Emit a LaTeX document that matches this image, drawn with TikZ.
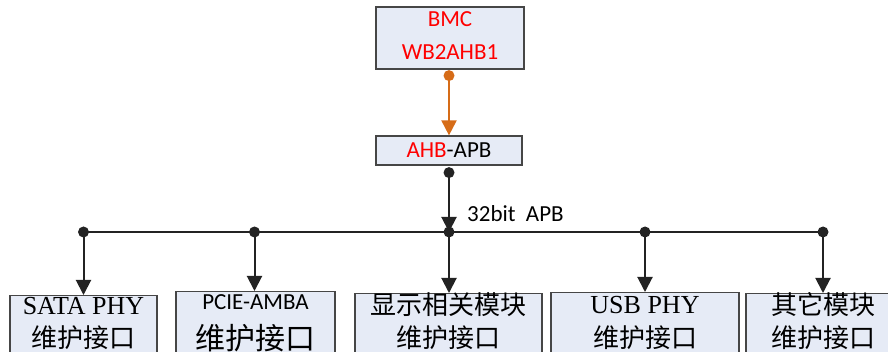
\documentclass[tikz,border=0pt]{standalone}
\usepackage{fontspec}
\newfontfamily\calfont{Carlito}
\newfontfamily\serfont{Liberation Serif}
\newfontfamily\cjkfont{Noto Sans CJK SC}
\usetikzlibrary{arrows, arrows.meta, positioning, calc}
\definecolor{boxfill}{RGB}{230,235,246}
\definecolor{boxline}{RGB}{70,70,70}
\definecolor{linkorange}{RGB}{214,108,24}
\definecolor{txtred}{RGB}{255,0,0}
\definecolor{buscol}{RGB}{35,35,35}
\tikzset{
  box/.style={draw=boxline, fill=boxfill, line width=1.2pt, inner sep=0pt},
  bus/.style={line width=2pt, draw=buscol},
  tip/.style={-{Triangle[length=15pt,width=15pt]}},
  lbl/.style={inner sep=0pt, anchor=base},
  cal/.style={font=\calfont\fontsize{23}{28}\selectfont},
  ser/.style={font=\serfont\fontsize{26}{30}\selectfont},
  cjk/.style={font=\cjkfont\fontsize{26}{30}\selectfont},
}
\begin{document}
\begin{tikzpicture}[x=1pt,y=-1pt]
\useasboundingbox (0,0) rectangle (888,352);
\clip (0,0) rectangle (888,352);

% bridge boxes
\node[box, minimum width=148, minimum height=62] (bmc) at (450,38) {};
\node[lbl, cal, text=txtred] (bmc1) at (450,27) {BMC};
\node[lbl, cal, text=txtred] (bmc2) at (450,60) {WB2AHB1};
\node[box, minimum width=146, minimum height=29] (ahb) at (449,150.5) {};
\node[lbl, cal] (ahbt) at (449,158) {\textcolor{txtred}{AHB}-APB};

% bus junctions
\coordinate (j1) at (83.5,232);
\coordinate (j2) at (254.5,232);
\coordinate (j3) at (449,232);
\coordinate (j4) at (645,232);
\coordinate (j5) at (823,232);
\coordinate (bmcdot) at ($(bmc.south)+(-1,6)$);
\coordinate (ahbdot) at ($(ahb.south)+(0,7)$);
\node[lbl, cal, anchor=base west] (buslbl) at (467,222) {32bit\ \ APB};

% maintenance interfaces
\node[box, anchor=north, minimum width=147, minimum height=90] (sata) at (83.5,295) {};
\node[box, anchor=north, minimum width=159, minimum height=90] (pcie) at (255.5,291) {};
\node[box, anchor=north, minimum width=187, minimum height=90] (disp) at (448.5,293) {};
\node[box, anchor=north, minimum width=188, minimum height=90] (usb) at (645,292) {};
\node[box, anchor=north, minimum width=154, minimum height=90] (other) at (823,293) {};

\node[lbl, ser] (sata1) at (sata.north |- 0,315) {SATA PHY};
\node[lbl, cjk] (sata2) at (sata.north |- 0,347) {维护接口};
\node[lbl, cal] (pcie1) at (pcie.north |- 0,309) {PCIE-AMBA};
\node[lbl, cjk, font=\cjkfont\fontsize{30}{34}\selectfont] (pcie2) at (pcie.north |- 0,349) {维护接口};
\node[lbl, cjk] (disp1) at (disp.north |- 0,315) {显示相关模块};
\node[lbl, cjk] (disp2) at (disp.north |- 0,347) {维护接口};
\node[lbl, ser] (usb1) at (usb.north |- 0,313) {USB PHY};
\node[lbl, cjk] (usb2) at (usb.north |- 0,347) {维护接口};
\node[lbl, cjk] (other1) at (other.north |- 0,315) {其它模块};
\node[lbl, cjk] (other2) at (other.north |- 0,347) {维护接口};

% links
\draw[line width=2pt, draw=linkorange, tip] (bmcdot) -- (bmcdot |- ahb.north);
\fill[linkorange] (bmcdot) circle (5.5pt);
\draw[bus, tip] (ahbdot) -- (j3);
\fill[buscol] (ahbdot) circle (5.5pt);
\draw[bus] (j1) -- (j5);
\foreach \j/\b in {j1/sata, j2/pcie, j3/disp, j4/usb, j5/other} {
  \draw[bus, tip] (\j) -- (\j |- \b.north);
  \fill[buscol] (\j) circle (5.5pt);
}
\end{tikzpicture}
\end{document}
